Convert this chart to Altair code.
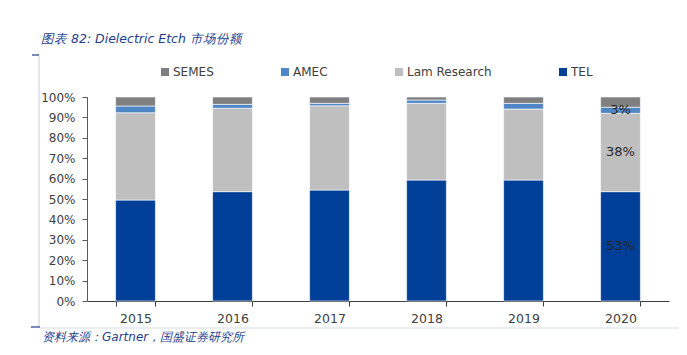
import altair as alt
import pandas as pd

years = ["2015", "2016", "2017", "2018", "2019", "2020"]
companies = ["SEMES", "AMEC", "Lam Research", "TEL"]
tel = [49.5, 53.6, 54.4, 59.3, 59.3, 53.6]
lam = [42.8, 40.9, 41.3, 37.6, 34.8, 38.4]
amec = [3.3, 1.9, 1.2, 1.6, 2.8, 3.0]
semes = [4.4, 3.6, 3.1, 1.5, 3.1, 5.0]
labels_2020 = {"TEL": "53%", "Lam Research": "38%", "AMEC": "3%"}
colors = ["#7f7f7f", "#4f86c6", "#bfbfbf", "#003f98"]
y_ticks = [0, 0.1, 0.2, 0.3, 0.4, 0.5, 0.6, 0.7, 0.8, 0.9, 1.0]

title_text = "图表 82:  Dielectric Etch 市场份额"
source_text = "资料来源：Gartner，国盛证券研究所"

series = {"TEL": tel, "Lam Research": lam, "AMEC": amec, "SEMES": semes}
stack_order = {"TEL": 0, "Lam Research": 1, "AMEC": 2, "SEMES": 3}
rows = []
for comp, vals in series.items():
    for yr, v in zip(years, vals):
        lab = labels_2020.get(comp, "") if yr == "2020" else ""
        rows.append({"year": yr, "company": comp, "value": v / 100.0,
                     "ord": stack_order[comp], "label": lab})
df = pd.DataFrame(rows)

W, H = 582, 204
base = alt.Chart(df)

x_axis = alt.Axis(title=None, labelAngle=0, tickBand="extent",
                  tickSize=5, labelPadding=6, labelFontSize=12.5,
                  labelColor="#404040", domainColor="#404040",
                  tickColor="#404040")
y_axis = alt.Axis(title=None, values=y_ticks, format=".0%", grid=False,
                  labelOverlap=False, tickSize=5, labelPadding=7,
                  labelFontSize=12, labelColor="#404040",
                  domainColor="#595959", tickColor="#595959")
x_scale = alt.Scale(paddingInner=0.59, paddingOuter=0.295)
y_scale = alt.Scale(domain=[0, 1], nice=False)

bars = base.mark_bar(stroke="white", strokeWidth=0.6).encode(
    x=alt.X("year:N", sort=years, scale=x_scale, axis=x_axis),
    y=alt.Y("value:Q", stack="zero", scale=y_scale, axis=y_axis),
    color=alt.Color("company:N",
                    scale=alt.Scale(domain=companies, range=colors),
                    legend=alt.Legend(title=None, orient="none", legendX=72,
                                      legendY=-31, direction="horizontal",
                                      columns=4, columnPadding=65,
                                      symbolType="square", symbolSize=64,
                                      symbolStrokeWidth=0, labelFontSize=12,
                                      labelColor="#404040", labelOffset=2)),
    order=alt.Order("ord:Q", sort="ascending"),
)

labels = base.transform_stack(
    stack="value", groupby=["year"], as_=["y0", "y1"],
    sort=[alt.SortField("ord", order="ascending")]
).transform_calculate(
    mid="(datum.y0 + datum.y1) / 2"
).transform_filter("datum.label != ''").mark_text(
    fontSize=13, color="#262626"
).encode(
    x=alt.X("year:N", sort=years, scale=x_scale, axis=x_axis),
    y=alt.Y("mid:Q", scale=y_scale, axis=y_axis),
    text="label:N",
)

title = alt.Chart(pd.DataFrame({"t": [title_text]})).mark_text(
    align="left", baseline="middle", fontSize=12.5, fontStyle="italic",
    color="#1f3d8c"
).encode(x=alt.value(-46), y=alt.value(-58), text="t:N")

source = alt.Chart(pd.DataFrame({"t": [source_text]})).mark_text(
    align="left", baseline="middle", fontSize=12, fontStyle="italic",
    color="#1f3d8c"
).encode(x=alt.value(-45), y=alt.value(240), text="t:N")

deco = alt.Chart(pd.DataFrame({"a": [0]}))
vline = deco.mark_rule(color="#c9ced8", strokeWidth=1).encode(
    x=alt.value(-48), y=alt.value(-42), y2=alt.value(230))
top_tick = deco.mark_rule(color="#1f3d8c", strokeWidth=1.2).encode(
    x=alt.value(-55), x2=alt.value(-48), y=alt.value(-42))
bottom_tick = deco.mark_rule(color="#1f3d8c", strokeWidth=1.2).encode(
    x=alt.value(-56), x2=alt.value(-47), y=alt.value(230))
hline = deco.mark_rule(color="#d5dbe6", strokeWidth=1).encode(
    x=alt.value(-47), x2=alt.value(600), y=alt.value(231))

chart = alt.layer(
    vline, top_tick, bottom_tick, hline, bars, labels, title, source
).properties(
    width=W, height=H,
    autosize=alt.AutoSizeParams(type="none"),
    padding={"left": 79, "top": 89, "right": 10, "bottom": 52},
).configure(font="DejaVu Sans").configure_view(stroke=None)

chart.save("out.html", embed_options={"renderer": "svg", "actions": False})
